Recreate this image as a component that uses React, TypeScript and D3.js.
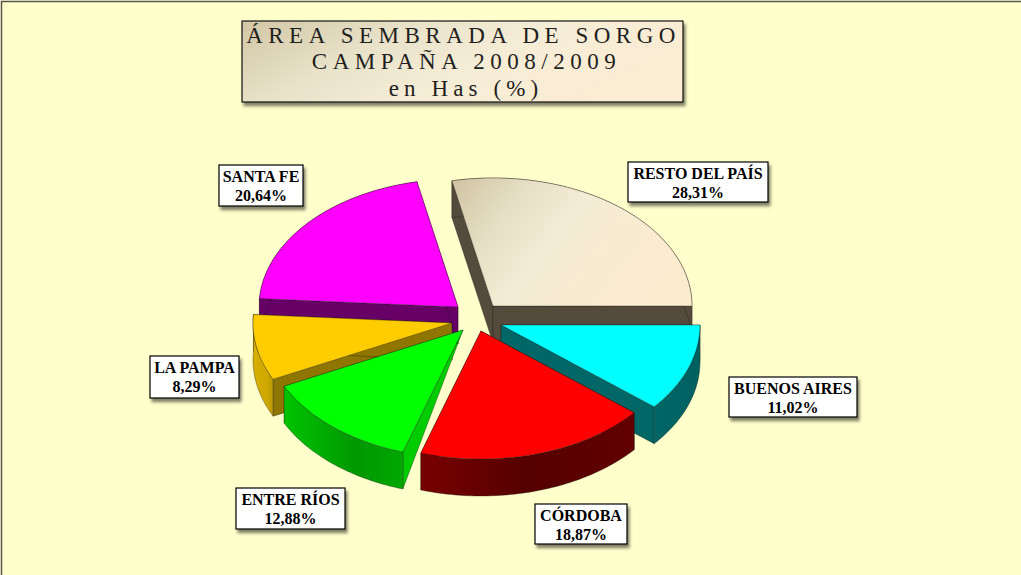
import React from "react";
import * as d3 from "d3";

const categories = ["RESTO DEL PAÍS", "BUENOS AIRES", "CÓRDOBA", "ENTRE RÍOS", "LA PAMPA", "SANTA FE"];
const shares = [28.31, 11.02, 18.87, 12.88, 8.29, 20.64];
const shareLabels = ["28,31%", "11,02%", "18,87%", "12,88%", "8,29%", "20,64%"];
const titleLines = ["ÁREA SEMBRADA DE SORGO", "CAMPAÑA 2008/2009", "en Has (%)"];

// layout, separate from the data
const W = 1021, H = 575;
const RX = 199, RY = 128, DEPTH = 37;
const apexes: [number, number][] = [[493, 306], [501, 325], [481, 331], [463, 330], [452, 323], [458, 307]];
const apexDepth = [DEPTH, DEPTH, DEPTH, 0, DEPTH, DEPTH];
const topFill = ["url(#gResto)", "#00ffff", "#ff0000", "#00ff00", "#ffcc00", "#ff00ff"];
const radialFill = ["#544b3c", "#006666", "#5c0000", "#00cc00", "#8f7600", "#660066"];
const outerFill = ["#544b3c", "url(#gCyan)", "url(#gRed)", "url(#gGreen)", "url(#gOrange)", "#660066"];
const boxes: [number, number, number, number][] = [
  [628, 162, 140, 40], [729, 377, 128, 40], [535, 504, 92, 40],
  [236, 488, 109, 41], [150, 356, 89, 42], [219, 165, 84, 41],
];
const drawOrder = [0, 5, 4, 1, 3, 2];
const titleY = [43, 69, 96];
const titleX = [463.5, 466.5, 466];
const titleSpacing = ["5.5px", "5.5px", "5.1px"];

const startAngle = ((90 - (shares[0] / d3.sum(shares)) * 360) * Math.PI) / 180;
const arcs = d3.pie<number>().sort(null).startAngle(startAngle).endAngle(startAngle + 2 * Math.PI)(shares);
const xr = d3.scaleLinear().domain([-1, 1]).range([-RX, RX]);
const yr = d3.scaleLinear().domain([-1, 1]).range([RY, -RY]);
const line = d3.line<[number, number]>();

function rim(i: number, dz = 0, reverse = false): [number, number][] {
  const { startAngle: a0, endAngle: a1 } = arcs[i];
  const [cx, cy] = apexes[i];
  const pts = d3.range(0, 61).map((k): [number, number] => {
    const a = a0 + ((a1 - a0) * k) / 60;
    return [cx + xr(Math.sin(a)), cy + yr(Math.cos(a)) + dz];
  });
  return reverse ? pts.reverse() : pts;
}

function Slice({ i }: { i: number }) {
  const [cx, cy] = apexes[i];
  const top = rim(i);
  const first = top[0];
  const last = top[top.length - 1];
  const wall = (p: [number, number]) =>
    line([[cx, cy], p, [p[0], p[1] + DEPTH], [cx, cy + apexDepth[i]]]) + "Z";
  const band = line([...rim(i), ...rim(i, DEPTH, true)]) + "Z";
  const face = line([[cx, cy], ...top]) + "Z";
  const edge = { stroke: "#1a1a1a", strokeWidth: 0.5, strokeOpacity: 0.7 };
  return (
    <g>
      <path d={wall(first)} fill={radialFill[i]} {...edge} />
      <path d={wall(last)} fill={radialFill[i]} {...edge} />
      <path d={band} fill={outerFill[i]} {...edge} />
      <path d={face} fill={topFill[i]} {...edge} />
    </g>
  );
}

function Label({ i }: { i: number }) {
  const [x, y, w, h] = boxes[i];
  const font = { textAnchor: "middle" as const, fontFamily: "Liberation Serif", fontWeight: "bold", fontSize: 16, fill: "#000" };
  return (
    <g>
      <rect x={x} y={y} width={w} height={h} fill="#fff" stroke="#000" strokeWidth={1.2} filter="url(#shadow)" />
      <text x={x + w / 2} y={y + 17} {...font}>
        {categories[i]}
      </text>
      <text x={x + w / 2} y={y + 36} {...font}>
        {shareLabels[i]}
      </text>
    </g>
  );
}

function hGrad(id: string, stops: [number, string][]) {
  return (
    <linearGradient id={id} x1="0" y1="0" x2="1" y2="0">
      {stops.map(([o, c]) => (
        <stop key={o} offset={o} stopColor={c} />
      ))}
    </linearGradient>
  );
}

export default function App() {
  return (
    <svg width={W} height={H} viewBox={`0 0 ${W} ${H}`} style={{ position: "absolute", left: 0, top: 0, display: "block" }}>
      <defs>
        <filter id="shadow" x="-10%" y="-15%" width="120%" height="140%">
          <feDropShadow dx={2} dy={3.5} stdDeviation={1.6} floodColor="#000" floodOpacity={0.5} />
        </filter>
        <linearGradient id="gResto" x1="0" y1="0.1" x2="1" y2="0.5">
          <stop offset="0" stopColor="#d2c6a5" />
          <stop offset="0.25" stopColor="#e6dfc5" />
          <stop offset="0.5" stopColor="#f4ecd4" />
          <stop offset="1" stopColor="#fdebd0" />
        </linearGradient>
        <linearGradient id="gTitle" x1="0" y1="0" x2="1" y2="0.35">
          <stop offset="0" stopColor="#d2c6a5" />
          <stop offset="0.35" stopColor="#e8e2c9" />
          <stop offset="0.65" stopColor="#f6edd6" />
          <stop offset="1" stopColor="#fbecd4" />
        </linearGradient>
        {hGrad("gCyan", [[0, "#006666"], [1, "#006060"]])}
        {hGrad("gRed", [[0, "#780000"], [0.5, "#550000"], [1, "#620000"]])}
        {hGrad("gGreen", [[0, "#00c400"], [0.6, "#009800"], [1, "#00a800"]])}
        {hGrad("gOrange", [[0, "#d8ae00"], [0.7, "#cfa800"], [1, "#b89400"]])}
      </defs>
      <rect width={W} height={H} fill="#ffffcc" />
      <path d={`M1.5 ${H}V1.5H${W}`} fill="none" stroke="#555" strokeWidth={1.5} />

      <rect x={242} y={21} width={441} height={81} fill="url(#gTitle)" stroke="#111" strokeWidth={1.2} filter="url(#shadow)" />
      {titleLines.map((t, i) => (
        <text
          key={t}
          x={titleX[i]}
          y={titleY[i]}
          textAnchor="middle"
          fontFamily="Liberation Serif"
          fontSize={23}
          fill="#1f1f1f"
          style={{ letterSpacing: titleSpacing[i] }}
        >
          {t}
        </text>
      ))}

      {drawOrder.map((i) => (
        <Slice key={i} i={i} />
      ))}
      {categories.map((c, i) => (
        <Label key={c} i={i} />
      ))}
    </svg>
  );
}
